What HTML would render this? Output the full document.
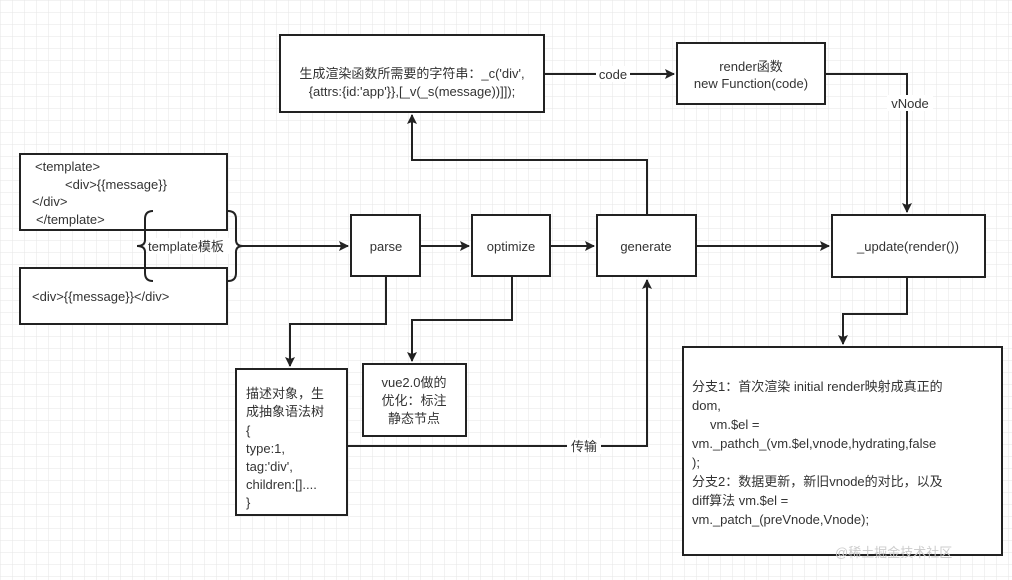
<!DOCTYPE html>
<html><head><meta charset="utf-8"><style>
html,body{margin:0;padding:0;background:#fff}
svg{display:block}
text{font-family:"Liberation Sans","Noto Sans CJK SC",sans-serif;fill:#333;font-size:13px}
</style></head><body>
<svg width="1012" height="580" viewBox="0 0 1012 580" xmlns="http://www.w3.org/2000/svg">
<defs>
<pattern id="g" width="12" height="12" patternUnits="userSpaceOnUse">
<path d="M12 0H0V12" fill="none" stroke="#e6e6e6" stroke-width="1"/>
</pattern>
<marker id="a" markerWidth="10" markerHeight="10" refX="9" refY="5" orient="auto" markerUnits="userSpaceOnUse">
<path d="M0,0 L10,5 L0,10 L2,5 Z" fill="#222"/>
</marker>
</defs>
<rect width="1012" height="580" fill="url(#g)"/>
<g fill="#fff" stroke="#222" stroke-width="2">
<rect x="20" y="154" width="207" height="76"/>
<rect x="20" y="268" width="207" height="56"/>
<rect x="351" y="215" width="69" height="61"/>
<rect x="472" y="215" width="78" height="61"/>
<rect x="597" y="215" width="99" height="61"/>
<rect x="832" y="215" width="153" height="62"/>
<rect x="280" y="35" width="264" height="77"/>
<rect x="677" y="43" width="148" height="61"/>
<rect x="236" y="369" width="111" height="146"/>
<rect x="363" y="364" width="103" height="72"/>
<rect x="683" y="347" width="319" height="208"/>
</g>
<g fill="none" stroke="#222" stroke-width="2">
<path d="M153 211 Q145 211 145 219 V240 Q145 246 137 246 Q145 246 145 252 V273 Q145 281 153 281"/>
<path d="M228 211 Q236 211 236 219 V240 Q236 246 243 246 Q236 246 236 252 V273 Q236 281 228 281"/>
<path d="M243 246 H348" marker-end="url(#a)"/>
<path d="M420 246 H469" marker-end="url(#a)"/>
<path d="M550 246 H594" marker-end="url(#a)"/>
<path d="M696 246 H829" marker-end="url(#a)"/>
<path d="M544 74 H674" marker-end="url(#a)"/>
<path d="M825 74 H907 V212" marker-end="url(#a)"/>
<path d="M647 215 V160 H412 V115" marker-end="url(#a)"/>
<path d="M386 276 V324 H290 V366" marker-end="url(#a)"/>
<path d="M512 276 V320 H412 V361" marker-end="url(#a)"/>
<path d="M347 446 H647 V280" marker-end="url(#a)"/>
<path d="M907 277 V314 H843 V344" marker-end="url(#a)"/>
</g>
<g fill="#fff">
<rect x="596" y="66" width="34" height="16"/>
<rect x="887" y="95" width="46" height="16"/>
<rect x="567" y="438" width="34" height="16"/>
<rect x="148" y="238" width="86" height="16"/>
</g>
<text x="35" y="171">&lt;template&gt;</text>
<text x="65" y="189">&lt;div&gt;{{message}}</text>
<text x="32" y="206">&lt;/div&gt;</text>
<text x="36" y="224">&lt;/template&gt;</text>
<text x="32" y="301">&lt;div&gt;{{message}}&lt;/div&gt;</text>
<text x="148" y="251">template模板</text>
<text x="386" y="251" text-anchor="middle">parse</text>
<text x="511" y="251" text-anchor="middle">optimize</text>
<text x="646" y="251" text-anchor="middle">generate</text>
<text x="908" y="251" text-anchor="middle">_update(render())</text>
<text x="412" y="78" text-anchor="middle" font-size="12.5">生成渲染函数所需要的字符串：_c('div',</text>
<text x="412" y="96" text-anchor="middle" font-size="12.5">{attrs:{id:'app'}},[_v(_s(message))]]);</text>
<text x="613" y="79" text-anchor="middle">code</text>
<text x="751" y="71" text-anchor="middle">render函数</text>
<text x="751" y="88" text-anchor="middle">new Function(code)</text>
<text x="910" y="108" text-anchor="middle">vNode</text>
<text x="584" y="451" text-anchor="middle">传输</text>
<text x="246" y="398">描述对象，生</text>
<text x="246" y="416">成抽象语法树</text>
<text x="246" y="435">{</text>
<text x="246" y="453">type:1,</text>
<text x="246" y="471">tag:'div',</text>
<text x="246" y="489">children:[]....</text>
<text x="246" y="507">}</text>
<text x="414" y="387" text-anchor="middle">vue2.0做的</text>
<text x="414" y="405" text-anchor="middle">优化：标注</text>
<text x="414" y="423" text-anchor="middle">静态节点</text>
<g font-size="14">
<text x="692" y="391" font-size="14">分支1：首次渲染 initial render映射成真正的</text>
<text x="692" y="410" font-size="14">dom,</text>
<text x="710" y="429" font-size="14">vm.$el =</text>
<text x="692" y="448" font-size="14">vm._pathch_(vm.$el,vnode,hydrating,false</text>
<text x="692" y="467" font-size="14">);</text>
<text x="692" y="486" font-size="14">分支2：数据更新，新旧vnode的对比，以及</text>
<text x="692" y="505" font-size="14">diff算法  vm.$el =</text>
<text x="692" y="524" font-size="14">vm._patch_(preVnode,Vnode);</text>
</g>
<text x="835" y="557" font-size="15" style="fill:#ccc">@稀土掘金技术社区</text>
</svg>
</body></html>
